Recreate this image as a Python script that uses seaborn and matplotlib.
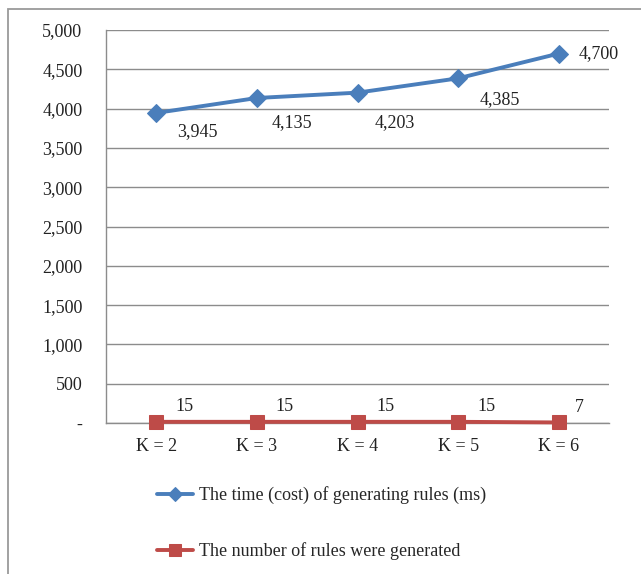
import matplotlib
matplotlib.use("Agg")
import matplotlib.pyplot as plt
import matplotlib.patches as mpatches
from matplotlib.ticker import FuncFormatter, MultipleLocator
import pandas as pd
import seaborn as sns

categories = ["K = 2", "K = 3", "K = 4", "K = 5", "K = 6"]
time_ms = [3945, 4135, 4203, 4385, 4700]
rule_counts = [15, 15, 15, 15, 7]
time_label = "The time (cost) of generating rules (ms)"
count_label = "The number of rules were generated"

# label offsets in pixels for the time series annotations
time_offsets = [(41, -19), (35, -25), (37, -30), (42, -21), (20, 0)]

sns.set_theme(style="white")
plt.rcParams["font.family"] = ["Liberation Serif", "DejaVu Serif"]

BLUE = "#4A7EBB"
RED = "#BE4B48"
GRID = "#8C8C8C"

fig = plt.figure(figsize=(6.41, 5.74), dpi=100)
fig.patch.set_facecolor("white")
ax = fig.add_axes([106 / 641, 1 - 423 / 574, (609 - 106) / 641, (423 - 30) / 574])

df = pd.DataFrame({"K": categories, "time": time_ms, "count": rule_counts})

sns.lineplot(data=df, x="K", y="time", ax=ax, color=BLUE, linewidth=2.8,
             marker="D", markersize=9, markeredgecolor=BLUE, label=time_label,
             sort=False)
sns.lineplot(data=df, x="K", y="count", ax=ax, color=RED, linewidth=2.8,
             marker="s", markersize=10, markeredgecolor=RED, label=count_label,
             sort=False)
for line in ax.get_lines():
    line.set_clip_on(False)
    line.set_zorder(5)

ax.set_xlim(-0.5, len(categories) - 0.5)
ax.set_ylim(0, 5000)
ax.yaxis.set_major_locator(MultipleLocator(500))
ax.yaxis.set_major_formatter(FuncFormatter(lambda v, p: "-" if v == 0 else f"{int(v):,}"))
ax.grid(axis="y", color=GRID, linewidth=1.0)
ax.set_axisbelow(True)
ax.set_xlabel("")
ax.set_ylabel("")

for s in ["top", "right"]:
    ax.spines[s].set_visible(False)
for s in ["left", "bottom"]:
    ax.spines[s].set_color(GRID)
    ax.spines[s].set_linewidth(1.0)
    ax.spines[s].set_zorder(1)

ax.tick_params(axis="y", length=0, pad=17, labelsize=13, colors="#222222")
ax.tick_params(axis="x", length=0, pad=11, labelsize=13, colors="#222222")

for i, (v, (dx, dy)) in enumerate(zip(time_ms, time_offsets)):
    ha = "left" if i == len(time_ms) - 1 else "center"
    ax.annotate(f"{v:,}", (i, v), xytext=(dx, dy), textcoords="offset pixels",
                ha=ha, va="center", fontsize=13, color="#222222")

for i, v in enumerate(rule_counts):
    dx = 21 if v < 10 else 28
    ax.annotate(f"{v:,}", (i, v), xytext=(dx, 15), textcoords="offset pixels",
                ha="center", va="center", fontsize=13, color="#222222")

handles, labels = ax.get_legend_handles_labels()
ax.get_legend().remove()
fig.legend(handles, labels, loc="center left",
           bbox_to_anchor=(141 / 641, 1 - 523 / 574), frameon=False,
           fontsize=13, handlelength=2.0, handletextpad=0.3,
           labelspacing=2.1, markerscale=0.8)

# outer chart-area border
border = mpatches.Rectangle((8 / 641, -0.2), 1.2, 1 - 9 / 574 + 0.2,
                            transform=fig.transFigure, fill=False,
                            edgecolor="#9A9A9A", linewidth=1.3, clip_on=False)
fig.patches.append(border)

fig.savefig("out.png", dpi=100, facecolor="white")
